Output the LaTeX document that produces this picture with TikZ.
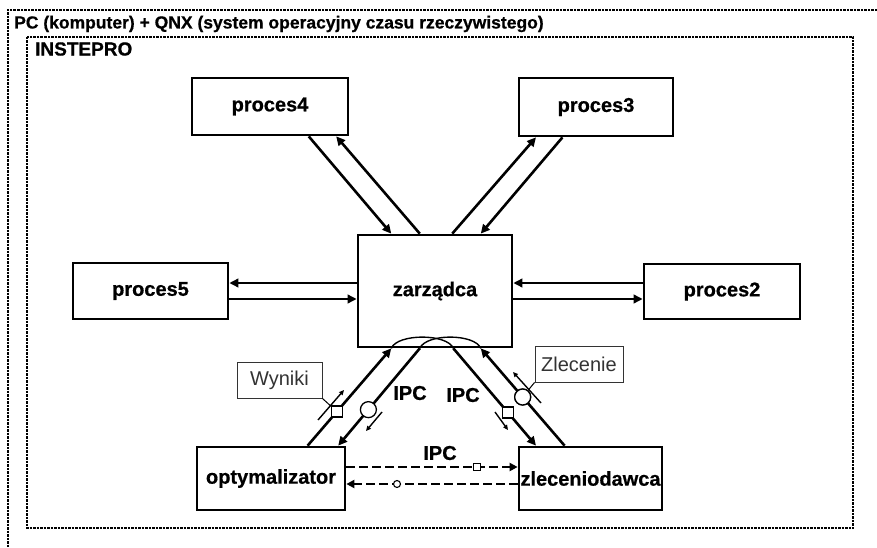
\documentclass[tikz,border=0pt]{standalone}
\usepackage{fontspec}
\setmainfont{Liberation Sans}[BoldFeatures={FakeBold=0.6}]
\usetikzlibrary{arrows.meta,calc}
\begin{document}
\begin{tikzpicture}[x=1pt,y=-1pt,
  frame/.style={line width=1.4pt,dash pattern=on 2.5pt off 1pt},
  proc/.style={draw,line width=2.7pt,fill=white,font=\fontsize{20}{22}\selectfont\bfseries,inner sep=0pt},
  conn/.style={line width=2.6pt,-{Triangle[length=9pt,width=8.5pt]}},
  tinyarr/.style={line width=1.4pt,-{Triangle[length=5pt,width=4.5pt]}},
  lbl/.style={draw=black!80,line width=0.9pt,fill=white,text=black!80,font=\fontsize{20}{22}\selectfont,inner sep=0pt},
  ipc/.style={font=\fontsize{20}{22}\selectfont\bfseries,inner sep=0pt},
  dsh/.style={line width=2.8pt,dash pattern=on 9pt off 4pt,-{Triangle[length=8pt,width=8pt]}},
  sq/.style={draw,line width=1.3pt,fill=white,minimum size=11pt,inner sep=0pt},
  circ/.style={draw,circle,line width=1.3pt,fill=white,minimum size=16pt,inner sep=0pt},
  smallsq/.style={draw,line width=1.1pt,fill=white,minimum size=6.5pt,inner sep=0pt},
  smallcirc/.style={draw,circle,line width=1.1pt,fill=white,minimum size=7pt,inner sep=0pt},
  leader/.style={line width=1pt},
  arcline/.style={line width=1.4pt},
  txt/.style={font=\fontsize{17.5}{20}\selectfont\bfseries,anchor=west,inner sep=0pt}
]
\useasboundingbox (0,0) rectangle (877,548);
% frames
\draw[frame] (877,10) -- (8,10) -- (8,548);
\node[txt] (title) at (14,24) {PC (komputer) + QNX (system operacyjny czasu rzeczywistego)};
\draw[frame] (27,37) rectangle (853,528);
\node[txt,font=\fontsize{19}{21}\selectfont\bfseries] (inst) at (35,49) {INSTEPRO};

% process boxes
\node[proc,minimum width=156pt,minimum height=57pt] (p4) at (270,106.5) {proces4};
\node[proc,minimum width=154pt,minimum height=58pt] (p3) at (596,107) {proces3};
\node[proc,minimum width=154pt,minimum height=112pt] (zar) at (435,291) {zarządca};
\node[proc,minimum width=155pt,minimum height=56pt] (p5) at (150.5,291) {proces5};
\node[proc,minimum width=156pt,minimum height=55pt] (p2) at (722,291.5) {proces2};
\node[proc,minimum width=148pt,minimum height=63pt] (opt) at (271,478.5) {optymalizator};
\node[proc,minimum width=143pt,minimum height=63pt] (zle) at (590.5,478.5) {zleceniodawca};

% upper diagonal connectors
\draw[conn] ($(p4.south west)!0.744!(p4.south east)$) -- ($(zar.north west)!0.221!(zar.north east)$);
\draw[conn] ($(zar.north west)!0.403!(zar.north east)$) -- ($(p4.south west)!0.917!(p4.south east)$);
\draw[conn] ($(zar.north west)!0.610!(zar.north east)$) -- ($(p3.south west)!0.117!(p3.south east)$);
\draw[conn] ($(p3.south west)!0.286!(p3.south east)$) -- ($(zar.north west)!0.792!(zar.north east)$);

% horizontal connectors
\coordinate (h1) at (0,283);
\coordinate (h2) at (0,299);
\draw[conn] (zar.west |- h1) -- (p5.east |- h1);
\draw[conn] (p5.east |- h2) -- (zar.west |- h2);
\draw[conn] (p2.west |- h1) -- (zar.east |- h1);
\draw[conn] (zar.east |- h2) -- (p2.west |- h2);

% lower diagonal connectors
\coordinate (o1) at ($(opt.north west)!0.743!(opt.north east)$);
\coordinate (o2) at ($(opt.north west)!0.946!(opt.north east)$);
\coordinate (z1) at ($(zar.south west)!0.221!(zar.south east)$);
\coordinate (z2) at ($(zar.south west)!0.403!(zar.south east)$);
\coordinate (zA) at ($(zar.south west)!0.617!(zar.south east)$);
\coordinate (zB) at ($(zar.south west)!0.792!(zar.south east)$);
\coordinate (l1) at ($(zle.north west)!0.126!(zle.north east)$);
\coordinate (l2) at ($(zle.north west)!0.322!(zle.north east)$);
\draw[conn] (o1) -- (z1);
\draw[conn] (z2) -- (o2);
\draw[conn] (zA) -- (l1);
\draw[conn] (l2) -- (zB);

% crossing arcs at the bottom of zarzadca
\draw[arcline] (z1) .. controls +(6,-15) and +(-6,-15) .. (zA);
\draw[arcline] (z2) .. controls +(6,-15) and +(-6,-15) .. (zB);

% labels
\node[lbl,minimum width=85pt,minimum height=36pt] (wyn) at (279.5,380) {Wyniki};
\node[lbl,minimum width=88pt,minimum height=36pt] (zlc) at (579,364) {Zlecenie};

% symbols on the connectors
\node[sq] (s1) at ($(o1)!0.35!(z1)$) {};
\node[circ] (c2) at ($(z2)!0.63!(o2)$) {};
\node[sq] (sA) at ($(zA)!0.66!(l1)$) {};
\node[circ] (cB) at ($(l2)!0.5!(zB)$) {};

% leaders
\draw[leader] (wyn.south east) -- (s1);
\draw[leader] (zlc.south west) -- (cB);
\node[sq] at (s1) {};
\node[circ] at (cB) {};

% small direction arrows
\coordinate (wa1) at (318,420); \coordinate (wa2) at (344,390);
\coordinate (ca1) at (382,412); \coordinate (ca2) at (366,431);
\coordinate (aa1) at (495,412); \coordinate (aa2) at (508,430);
\coordinate (za1) at (541,403); \coordinate (za2) at (513,372);
\draw[tinyarr] (wa1) -- (wa2);
\draw[tinyarr] (ca1) -- (ca2);
\draw[tinyarr] (aa1) -- (aa2);
\draw[tinyarr] (za1) -- (za2);

% IPC labels
\node[ipc] (ipc1) at (410,393) {IPC};
\node[ipc] (ipc2) at (463,395) {IPC};
\node[ipc] (ipc3) at (440,453) {IPC};

% dashed IPC connectors
\coordinate (d1) at (0,467);
\coordinate (d2) at (0,484);
\draw[dsh] (opt.east |- d1) -- (zle.west |- d1);
\draw[dsh] (zle.west |- d2) -- (opt.east |- d2);
\node[smallsq] (ds) at (477,467) {};
\node[smallcirc] (dc) at (397,484) {};
\end{tikzpicture}
\end{document}
